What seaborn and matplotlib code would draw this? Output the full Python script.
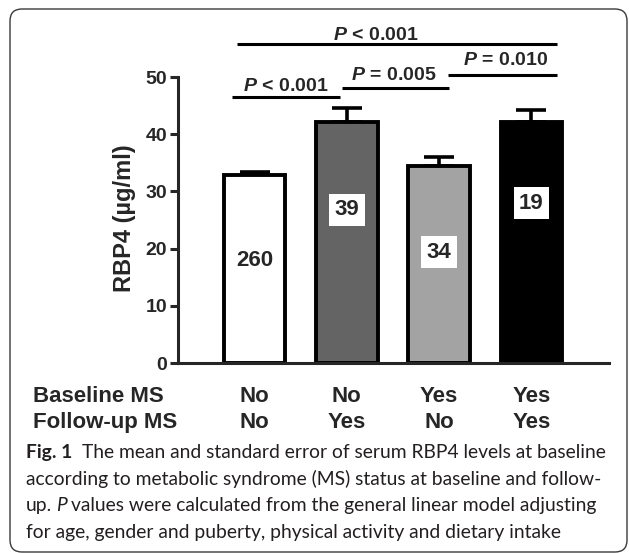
import numpy as np
import pandas as pd
import seaborn as sns
import matplotlib.pyplot as plt
from matplotlib.patches import FancyBboxPatch
from matplotlib.transforms import blended_transform_factory, IdentityTransform

groups = ["No/No", "No/Yes", "Yes/No", "Yes/Yes"]
baseline_ms = ["No", "No", "Yes", "Yes"]
followup_ms = ["No", "Yes", "No", "Yes"]
rbp4_mean = [32.9, 42.2, 34.5, 42.2]
rbp4_se = [0.5, 2.4, 1.6, 2.1]
n_sizes = ["260", "39", "34", "19"]
n_label_y = [18.0, 26.8, 19.4, 27.9]
bar_colors = ["#ffffff", "#646464", "#a3a3a3", "#000000"]

# comparisons: left bar, right bar, p text
cmp_left = [0, 1, 2, 0]
cmp_right = [1, 2, 3, 3]
cmp_text = ["$P$ < 0.001", "$P$ = 0.005", "$P$ = 0.010", "$P$ < 0.001"]

caption = [
    [("Fig. 1", {"weight": "bold"}), ("The mean and standard error of serum RBP4 levels at baseline", {})],
    [("according to metabolic syndrome (MS) status at baseline and follow-", {})],
    [("up.", {}), ("P", {"style": "italic"}), ("values were calculated from the general linear model adjusting", {})],
    [("for age, gender and puberty, physical activity and dietary intake", {})],
]

W, H = 629, 553
sns.set_style("ticks")
plt.rcParams["font.family"] = ["Liberation Sans", "DejaVu Sans"]
plt.rcParams["mathtext.fontset"] = "custom"
plt.rcParams["mathtext.it"] = "Liberation Sans:italic:bold"
plt.rcParams["mathtext.rm"] = "Liberation Sans:bold"

fig = plt.figure(figsize=(W / 100, H / 100), dpi=100)
fig.patch.set_facecolor("white")


def fx(x):
    return x / W


def fy(y):
    return 1 - y / H


ax = fig.add_axes([fx(178), fy(363), (609 - 178) / W, (363 - 77) / H])
df = pd.DataFrame({"group": groups, "rbp4": rbp4_mean})
ax.errorbar(range(4), rbp4_mean, yerr=[np.zeros(4), rbp4_se], fmt="none",
            ecolor="black", elinewidth=2.6, capsize=11, capthick=2.6, zorder=1)
sns.barplot(data=df, x="group", y="rbp4", hue="group", palette=bar_colors,
            width=0.67, edgecolor="black", linewidth=2.8, legend=False, ax=ax, zorder=2)

ax.set_xlim(-0.829, 3.84)
ax.set_ylim(0, 50)
ax.set_yticks(range(0, 51, 10))
ax.set_xticks([])
ax.set_xlabel("")
ax.set_ylabel("")
for s in ["top", "right"]:
    ax.spines[s].set_visible(False)
for s in ["left", "bottom"]:
    ax.spines[s].set_linewidth(2.2)
ax.tick_params(axis="y", length=6, width=2.2, pad=2, labelsize=14)
for lab in ax.get_yticklabels():
    lab.set_fontweight("bold")

# n per group
for i, n in enumerate(n_sizes):
    ax.text(i, n_label_y[i], n, ha="center", va="center", fontsize=16, weight="bold",
            bbox=dict(facecolor="white", edgecolor="none", boxstyle="square,pad=0.25"), zorder=5)

# significance lines
line_y = [46.55, 48.0, 50.4, 55.7]
line_dx0 = [-0.244, -0.052, 0.096, -0.19]
line_dx1 = [-0.074, 0.107, 0.277, 0.277]
text_x = [0.336, 1.51, 2.72, 1.31]
text_y = [47.5, 49.5, 52.15, 56.5]
for k in range(4):
    ax.plot([cmp_left[k] + line_dx0[k], cmp_right[k] + line_dx1[k]], [line_y[k]] * 2,
            color="black", lw=2.2, clip_on=False, solid_capstyle="butt")
    ax.text(text_x[k], text_y[k], cmp_text[k], ha="center", va="baseline",
            fontsize=14, weight="bold", clip_on=False)

# group labels under the axis
tr = blended_transform_factory(ax.transData, fig.transFigure)
for i in range(4):
    ax.text(i, fy(402), baseline_ms[i], transform=tr, ha="center", va="baseline", fontsize=16, weight="bold")
    ax.text(i, fy(428), followup_ms[i], transform=tr, ha="center", va="baseline", fontsize=16, weight="bold")
fig.text(fx(33), fy(402), "Baseline MS", ha="left", va="baseline", fontsize=16, weight="bold")
fig.text(fx(33), fy(428), "Follow-up MS", ha="left", va="baseline", fontsize=16, weight="bold")

fig.text(fx(125), fy(218), "RBP4 (µg/ml)", rotation=90, ha="center", va="center",
         fontsize=17, weight="bold")

# caption
r = fig.canvas.get_renderer()
probe = fig.text(0, 0, caption[0][1][0], fontsize=12, family="Lato")
probe_b = fig.text(0, 0, caption[0][0][0], fontsize=12, family="Lato", weight="bold")
w12 = probe.get_window_extent(r).width + probe_b.get_window_extent(r).width
probe.remove()
probe_b.remove()
cap_size = 12 * (581 - 10) / w12
base_y = [458, 485, 511, 538]
for li, pieces in enumerate(caption):
    x = 26
    for j, (txt, kw) in enumerate(pieces):
        t = fig.text(fx(x), fy(base_y[li]), txt, fontsize=cap_size, family="Lato",
                     ha="left", va="baseline", color="#231f20", **kw)
        x += t.get_window_extent(r).width
        x += 10 if (li == 0 and j == 0) else cap_size * 0.3

frame = FancyBboxPatch((10, H - 552), 617, 543, boxstyle="round,pad=0,rounding_size=12",
                       transform=IdentityTransform(), fill=False, ec="#3a3a3a", lw=1.0)
fig.add_artist(frame)

fig.savefig("out.png", dpi=100)
